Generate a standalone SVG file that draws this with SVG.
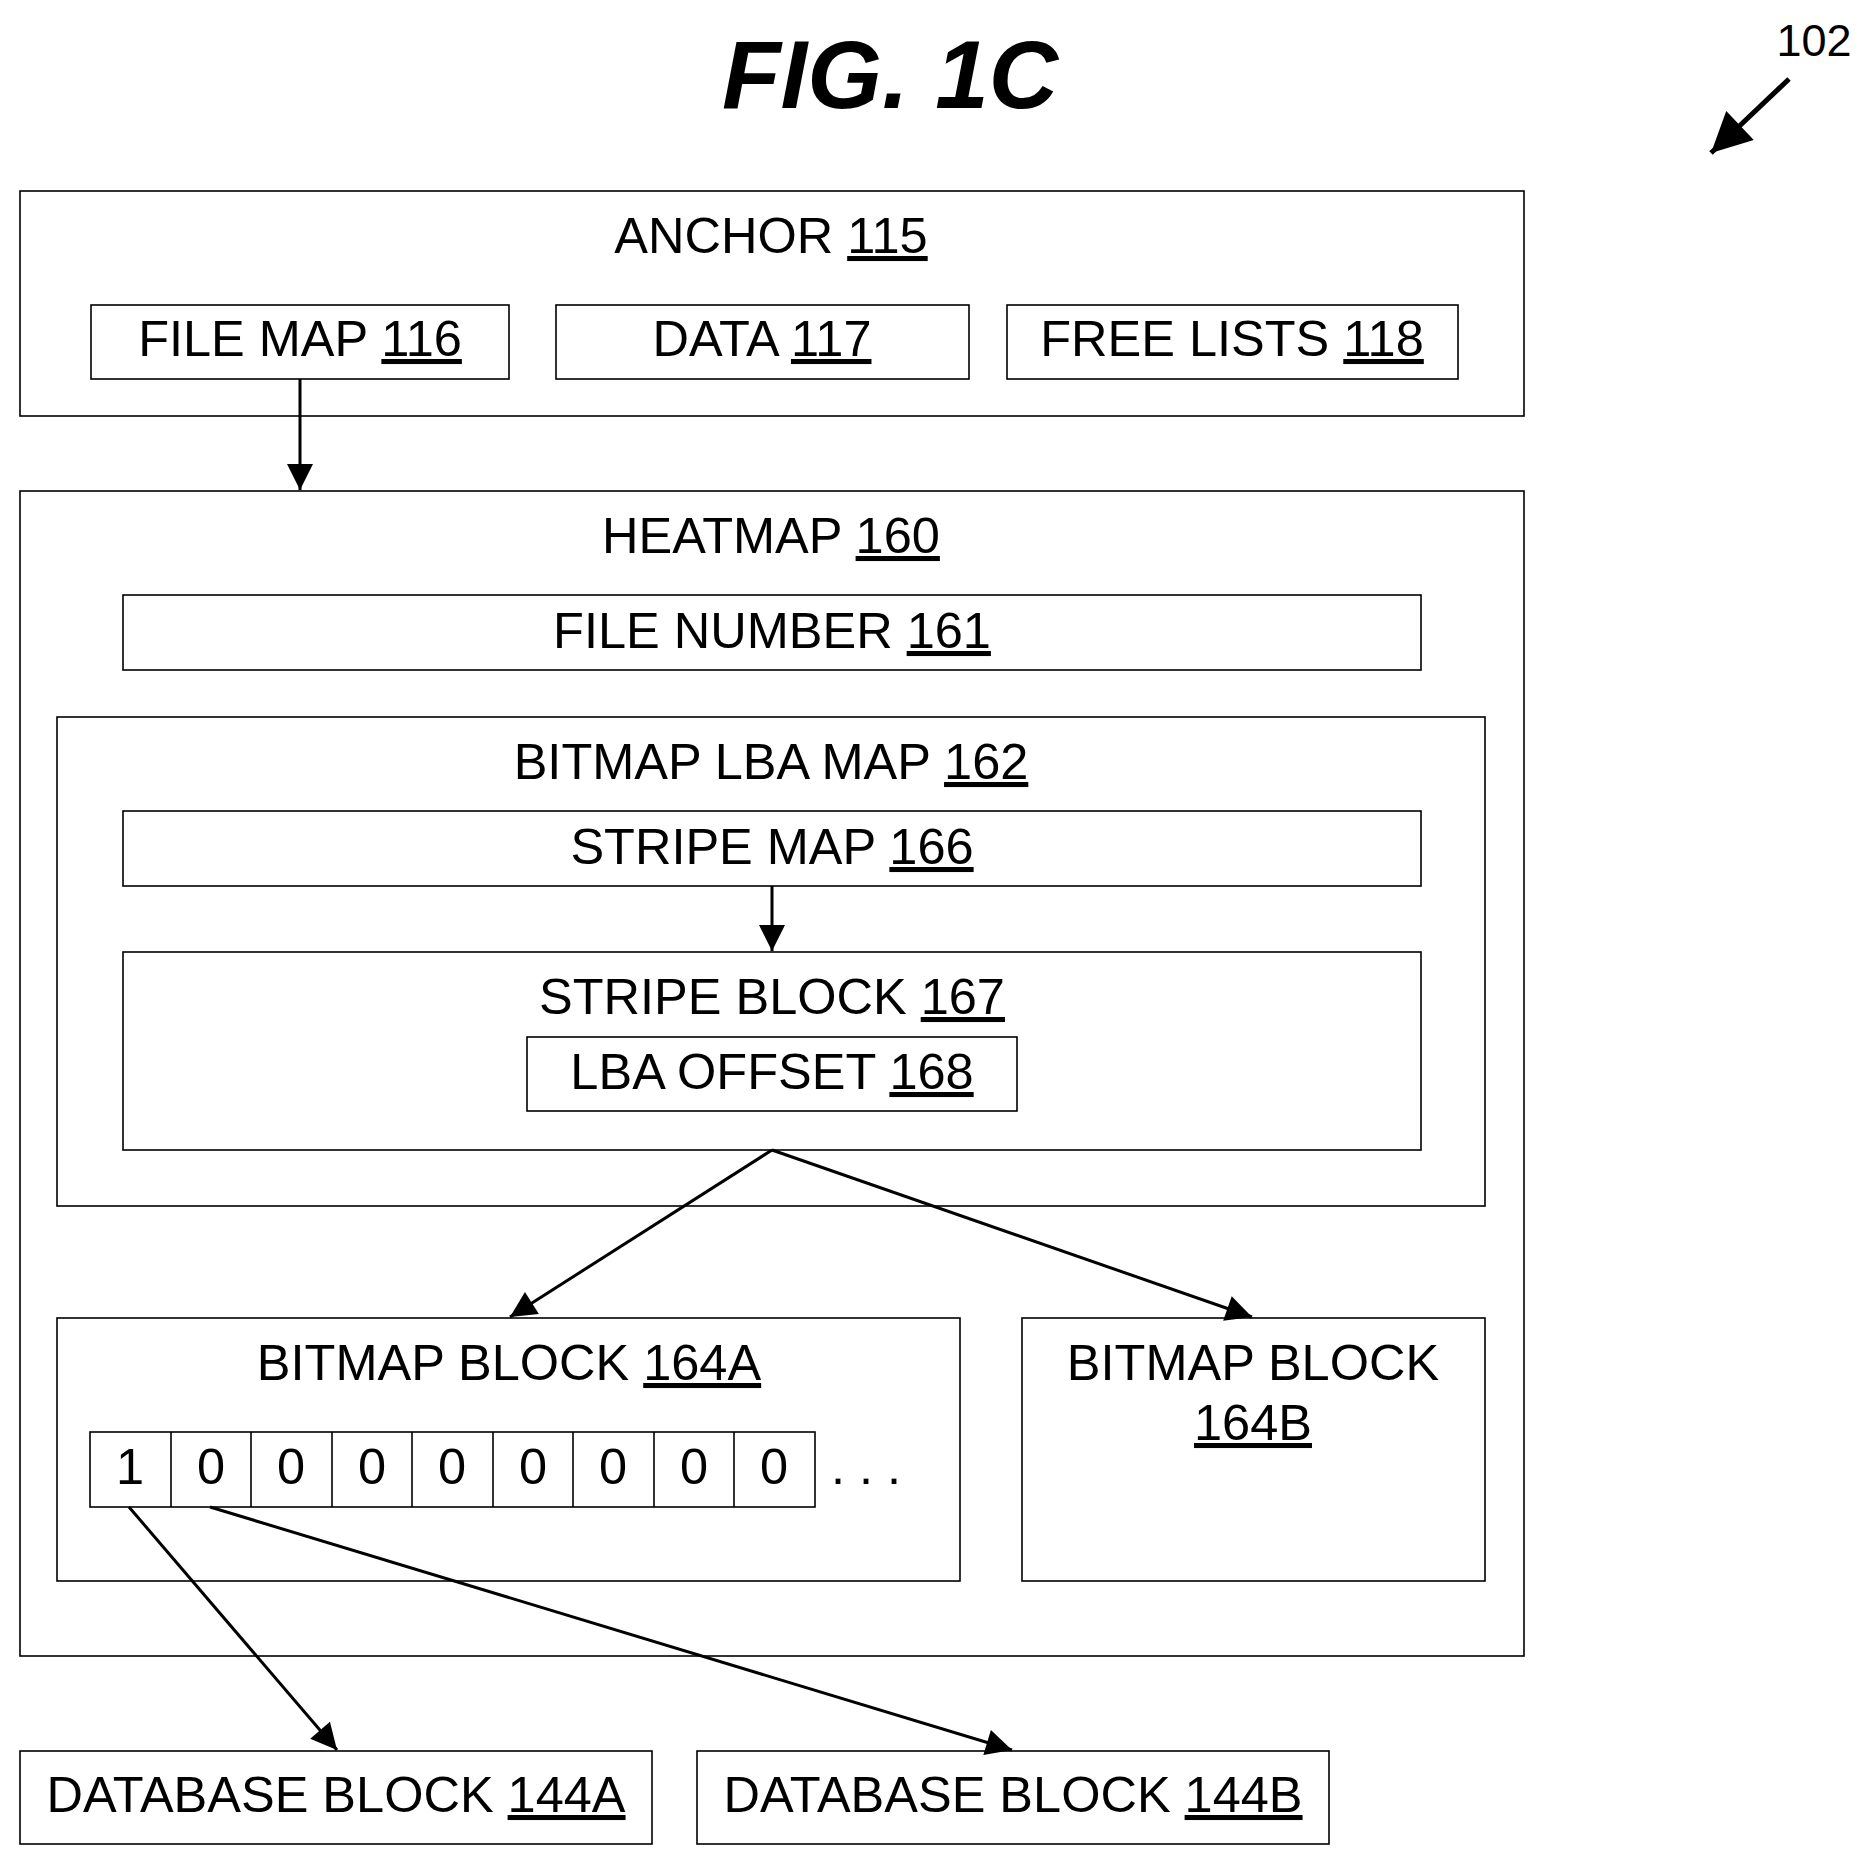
<svg xmlns="http://www.w3.org/2000/svg" width="1869" height="1861" viewBox="0 0 1869 1861">
<style>
rect{fill:none;stroke:#000;stroke-width:1.6}
text{font-family:"Liberation Sans",Arial,sans-serif;font-size:50.5px;fill:#000;text-anchor:middle}
.u{text-decoration:underline}
.c line{stroke:#000;stroke-width:3}
.c line.t{stroke-width:5}
</style>
<defs><marker id="a" viewBox="0 0 10 10" refX="10" refY="5" markerWidth="32" markerHeight="26" markerUnits="userSpaceOnUse" orient="auto"><path d="M0,0L10,5L0,10z"/></marker>
<marker id="b" viewBox="0 0 10 10" refX="10" refY="5" markerWidth="48" markerHeight="40" markerUnits="userSpaceOnUse" orient="auto"><path d="M0,0L10,5L0,10z"/></marker></defs>
<rect width="1869" height="1861" style="fill:#fff;stroke:none"/>
<text x="890" y="108" style="font-size:96px;font-weight:bold;font-style:italic">FIG. 1C</text>
<text x="1814" y="56" style="font-size:45px">102</text>
<g id="anchor"><rect x="20" y="191" width="1504" height="225"/><text x="771" y="253">ANCHOR <tspan class="u">115</tspan></text></g>
<g id="filemap"><rect x="91" y="305" width="418" height="74"/><text x="300" y="356">FILE MAP <tspan class="u">116</tspan></text></g>
<g id="data"><rect x="556" y="305" width="413" height="74"/><text x="762" y="356">DATA <tspan class="u">117</tspan></text></g>
<g id="freelists"><rect x="1007" y="305" width="451" height="74"/><text x="1232" y="356">FREE LISTS <tspan class="u">118</tspan></text></g>
<g id="heatmap"><rect x="20" y="491" width="1504" height="1165"/><text x="771" y="553">HEATMAP <tspan class="u">160</tspan></text></g>
<g id="filenumber"><rect x="123" y="595" width="1298" height="75"/><text x="772" y="648">FILE NUMBER <tspan class="u">161</tspan></text></g>
<g id="lbamap"><rect x="57" y="717" width="1428" height="489"/><text x="771" y="779">BITMAP LBA MAP <tspan class="u">162</tspan></text></g>
<g id="stripemap"><rect x="123" y="811" width="1298" height="75"/><text x="772" y="864">STRIPE MAP <tspan class="u">166</tspan></text></g>
<g id="stripeblock"><rect x="123" y="952" width="1298" height="198"/><text x="772" y="1014">STRIPE BLOCK <tspan class="u">167</tspan></text></g>
<g id="lbaoffset"><rect x="527" y="1037" width="490" height="74"/><text x="772" y="1089">LBA OFFSET <tspan class="u">168</tspan></text></g>
<g id="bitmapA"><rect x="57" y="1318" width="903" height="263"/><text x="509" y="1380">BITMAP BLOCK <tspan class="u">164A</tspan></text>
<g id="bits"><rect x="90" y="1432" width="725" height="75"/>
<path d="M171,1432V1507M251,1432V1507M332,1432V1507M412,1432V1507M493,1432V1507M573,1432V1507M654,1432V1507M734,1432V1507" stroke="#000" stroke-width="1.6"/>
<text x="130" y="1484">1</text><text x="211" y="1484">0</text><text x="291" y="1484">0</text><text x="372" y="1484">0</text><text x="452" y="1484">0</text><text x="533" y="1484">0</text><text x="613" y="1484">0</text><text x="694" y="1484">0</text><text x="774" y="1484">0</text>
<text x="866" y="1484">. . .</text></g></g>
<g id="bitmapB"><rect x="1022" y="1318" width="463" height="263"/><text x="1253" y="1380">BITMAP BLOCK</text><text x="1253" y="1440" class="u">164B</text></g>
<g id="db144a"><rect x="20" y="1751" width="632" height="93"/><text x="336" y="1812">DATABASE BLOCK <tspan class="u">144A</tspan></text></g>
<g id="db144b"><rect x="697" y="1751" width="632" height="93"/><text x="1013" y="1812">DATABASE BLOCK <tspan class="u">144B</tspan></text></g>
<g class="c" id="connectors">
<line class="t" x1="1789" y1="79" x2="1711" y2="153" marker-end="url(#b)"/>
<line x1="300" y1="379" x2="300" y2="490" marker-end="url(#a)"/>
<line x1="772" y1="886" x2="772" y2="951" marker-end="url(#a)"/>
<line x1="772" y1="1150" x2="510" y2="1317" marker-end="url(#a)"/>
<line x1="772" y1="1150" x2="1252" y2="1317" marker-end="url(#a)"/>
<line x1="129" y1="1507" x2="337" y2="1750" marker-end="url(#a)"/>
<line x1="210" y1="1507" x2="1012" y2="1750" marker-end="url(#a)"/>
</g>
</svg>
